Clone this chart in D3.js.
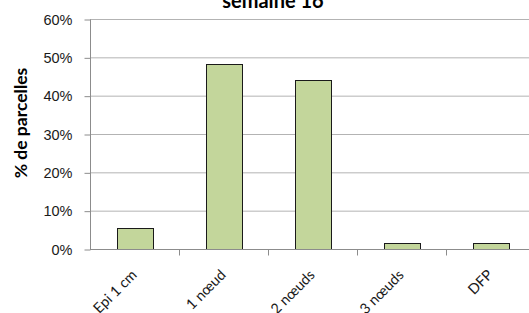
<!DOCTYPE html>
<html>
<head>
<meta charset="utf-8">
<script src="https://cdn.jsdelivr.net/npm/d3@7"></script>
<style>
  html, body { margin: 0; padding: 0; background: #fff; }
  svg { display: block; font-family: Lato, "Open Sans", sans-serif; }
</style>
</head>
<body>
<svg id="chart" width="529" height="313"></svg>
<script>
const categories = ['Epi 1 cm', '1 nœud', '2 nœuds', '3 nœuds', 'DFP'];
const values = [0.054, 0.482, 0.441, 0.015, 0.015];
const yTicks = [0, 0.1, 0.2, 0.3, 0.4, 0.5, 0.6];
const title = 'semaine 16';
const yTitle = '% de parcelles';

const svg = d3.select('#chart');

const x = d3.scaleBand()
  .domain(categories)
  .range([90, 535])
  .paddingInner(0.6)
  .paddingOuter(0.3);

const y = d3.scaleLinear()
  .domain([0, 0.6])
  .range([249, 19]);

// gridlines
svg.append('g')
  .selectAll('line')
  .data(yTicks.slice(1))
  .enter()
  .append('line')
  .attr('x1', 90)
  .attr('x2', 529)
  .attr('y1', d => y(d) + 0.5)
  .attr('y2', d => y(d) + 0.5)
  .attr('stroke', '#b3b3b3')
  .attr('stroke-width', 1);

// bars
svg.append('g')
  .selectAll('rect')
  .data(values)
  .enter()
  .append('rect')
  .attr('x', (d, i) => Math.round(x(categories[i])) + 0.5)
  .attr('y', d => Math.round(y(d)) + 0.5)
  .attr('width', Math.round(x.bandwidth()))
  .attr('height', d => Math.round(y(0)) - Math.round(y(d)))
  .attr('fill', '#c3d69b')
  .attr('stroke', '#1a1a1a')
  .attr('stroke-width', 1);

// y axis
const yAxis = d3.axisLeft(y)
  .tickValues(yTicks)
  .tickFormat(d3.format('.0%'))
  .tickSize(6)
  .tickPadding(12);

const ya = svg.append('g')
  .attr('transform', 'translate(90.5,0.5)')
  .call(yAxis);
ya.select('.domain').attr('stroke', '#8c8c8c').attr('d', 'M0,' + y(0.6) + 'V' + y(0));
ya.selectAll('.tick line').attr('stroke', '#8c8c8c');
ya.selectAll('.tick text')
  .attr('font-size', 14.5)
  .attr('fill', '#1a1a1a');

// x axis
const bandStep = x.step();
const xa = svg.append('g')
  .attr('transform', 'translate(0,' + (y(0) + 0.5) + ')');
xa.append('line')
  .attr('x1', 90)
  .attr('x2', 529)
  .attr('stroke', '#8c8c8c');
xa.selectAll('.xtick')
  .data(categories)
  .enter()
  .append('line')
  .attr('x1', (d, i) => Math.round(90 + (i + 1) * bandStep) + 0.5)
  .attr('x2', (d, i) => Math.round(90 + (i + 1) * bandStep) + 0.5)
  .attr('y1', 0)
  .attr('y2', 6)
  .attr('stroke', '#8c8c8c');
xa.selectAll('text')
  .data(categories)
  .enter()
  .append('text')
  .attr('transform', d => 'translate(' + (x(d) + x.bandwidth() / 2 - 4) + ',19) rotate(-45)')
  .attr('text-anchor', 'end')
  .attr('dy', '0.71em')
  .attr('font-size', 14.5)
  .attr('fill', '#1a1a1a')
  .text(d => d);

// titles
svg.append('text')
  .attr('x', 273)
  .attr('y', 8)
  .attr('text-anchor', 'middle')
  .attr('font-size', 20)
  .attr('font-weight', 'bold')
  .attr('fill', '#000')
  .text(title);

svg.append('text')
  .attr('transform', 'translate(27,123) rotate(-90)')
  .attr('text-anchor', 'middle')
  .attr('font-size', 17.5)
  .attr('font-weight', 'bold')
  .attr('fill', '#000')
  .text(yTitle);
</script>
</body>
</html>
